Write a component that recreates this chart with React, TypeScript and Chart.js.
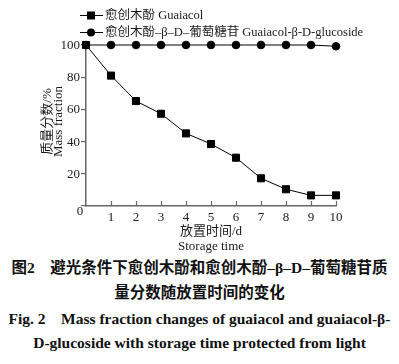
import React, { useEffect, useRef } from "react";
import { Chart, registerables } from "chart.js";

Chart.register(...registerables);

const days = [0, 1, 2, 3, 4, 5, 6, 7, 8, 9, 10];
const guaiacol = [100, 81, 65.2, 57.3, 45.1, 38.5, 30, 17.2, 10.4, 6.6, 6.6];
const glucoside = [100, 100, 100, 100, 100, 100, 100, 100, 100, 100, 99.2];
const yTicks = [0, 20, 40, 60, 80, 100];
const xTicks = [1, 2, 3, 4, 5, 6, 7, 8, 9, 10];
const legendLabels = ["愈创木酚 Guaiacol", "愈创木酚–β–D–葡萄糖苷 Guaiacol-β-D-glucoside"];
const yTitle = ["质量分数/%", "Mass fraction"];
const xTitle = ["放置时间/d", "Storage time"];
const caption = [
  "图2　避光条件下愈创木酚和愈创木酚–β–D–葡萄糖苷质",
  "量分数随放置时间的变化",
  "Fig. 2　Mass fraction changes of guaiacol and guaiacol-β-",
  "D-glucoside with storage time protected from light",
];

const FONT = '"Liberation Serif", "Noto Sans CJK SC", serif';
const TEXT = "#1a1a1a";
const AXIS = "#666";

const decorPlugin = {
  id: "decor",
  afterDraw(chart: any) {
    const ctx = chart.ctx;
    const xs = chart.scales.x;
    const ys = chart.scales.y;
    const bottom = ys.getPixelForValue(0);
    const left = xs.getPixelForValue(0);

    ctx.save();
    ctx.font = `13px ${FONT}`;
    ctx.textBaseline = "middle";
    ctx.fillStyle = TEXT;

    // y title
    ctx.textAlign = "center";
    const cy = (ys.top + ys.bottom) / 2 - 4;
    ctx.save();
    ctx.translate(48, cy);
    ctx.rotate(-Math.PI / 2);
    ctx.fillText(yTitle[0], 0, 0);
    ctx.restore();
    ctx.save();
    ctx.translate(59, cy);
    ctx.rotate(-Math.PI / 2);
    ctx.fillText(yTitle[1], 0, 0);
    ctx.restore();

    // y tick labels
    ctx.fillStyle = TEXT;
    ctx.textAlign = "right";
    for (let i = 0; i < yTicks.length; i++) {
      const v = yTicks[i];
      if (v !== 0) ctx.fillText(String(v), left - 6, ys.getPixelForValue(v) + 0.5);
    }

    // origin label
    ctx.textAlign = "center";
    ctx.fillText("0", left - 6, bottom + 6);

    // x title
    const cx = (xs.left + xs.right) / 2;
    ctx.fillText(xTitle[0], cx, bottom + 26);
    ctx.fillText(xTitle[1], cx, bottom + 41);

    // inward x ticks
    ctx.strokeStyle = AXIS;
    ctx.lineWidth = 1.2;
    xTicks.forEach((v) => {
      const px = Math.round(xs.getPixelForValue(v)) + 0.5;
      ctx.beginPath();
      ctx.moveTo(px, bottom);
      ctx.lineTo(px, bottom - 5);
      ctx.stroke();
    });

    // legend
    ctx.font = `12.5px ${FONT}`;
    const rows = [15, 32];
    rows.forEach((ry, i) => {
      ctx.strokeStyle = "#000";
      ctx.lineWidth = 1;
      ctx.beginPath();
      ctx.moveTo(80, ry + 0.5);
      ctx.lineTo(103, ry + 0.5);
      ctx.stroke();
      ctx.fillStyle = "#000";
      if (i === 0) {
        ctx.fillRect(87, ry - 3.5, 8, 8);
      } else {
        ctx.beginPath();
        ctx.arc(91, ry + 0.5, 4, 0, Math.PI * 2);
        ctx.fill();
      }
      ctx.fillStyle = TEXT;
      ctx.textAlign = "left";
      ctx.fillText(legendLabels[i], 105, ry + 1);
    });
    ctx.restore();
  },
};

export default function App() {
  const ref = useRef<HTMLCanvasElement>(null);
  useEffect(() => {
    document.body.style.margin = "0";
    const chart = new Chart(ref.current as HTMLCanvasElement, {
      type: "line",
      data: {
        datasets: [
          {
            label: legendLabels[0],
            data: days.map((d, i) => ({ x: d, y: guaiacol[i] })),
            borderColor: "#000",
            backgroundColor: "#000",
            borderWidth: 1,
            pointStyle: "rect",
            pointRadius: 5,
            pointHoverRadius: 5,
          },
          {
            label: legendLabels[1],
            data: days.map((d, i) => ({ x: d, y: glucoside[i] })),
            borderColor: "#000",
            backgroundColor: "#000",
            borderWidth: 1,
            pointStyle: "circle",
            pointRadius: 3.8,
            pointHoverRadius: 3.8,
          },
        ],
      },
      options: {
        animation: false,
        responsive: false,
        clip: false as any,
        layout: { padding: { top: 45, right: 63, left: 0, bottom: 0 } },
        plugins: { legend: { display: false }, tooltip: { enabled: false } },
        scales: {
          x: {
            type: "linear",
            min: 0,
            max: 10,
            afterFit: (s: any) => {
              s.height = 52;
            },
            afterBuildTicks: (s: any) => {
              s.ticks = [0, ...xTicks].map((v) => ({ value: v }));
            },
            grid: { display: false, drawTicks: false },
            border: { color: AXIS, width: 1.5 },
            ticks: {
              padding: 4,
              color: TEXT,
              font: { family: FONT, size: 13 },
              maxRotation: 0,
              autoSkip: false,
              callback: (v: any) => (v === 0 ? "" : String(v)),
            },
          },
          y: {
            type: "linear",
            min: 0,
            max: 100,
            afterFit: (s: any) => {
              s.width = 86;
            },
            afterBuildTicks: (s: any) => {
              s.ticks = yTicks.map((v) => ({ value: v }));
            },
            grid: { drawOnChartArea: false, drawTicks: true, tickLength: 5, color: AXIS, lineWidth: 1.2 },
            border: { color: AXIS, width: 1.5 },
            ticks: {
              autoSkip: false,
              callback: () => "",
            },
          },
        },
      },
      plugins: [decorPlugin],
    });
    return () => chart.destroy();
  }, []);

  const capStyle = (top: number): React.CSSProperties => ({
    position: "absolute",
    top,
    left: 0,
    width: 399,
    textAlign: "center",
    fontFamily: FONT,
    fontWeight: 700,
    fontSize: 15.5,
    lineHeight: "20px",
    color: "#111",
    whiteSpace: "nowrap",
  });

  return (
    <div style={{ position: "relative", width: 399, height: 364, background: "#fff" }}>
      <canvas ref={ref} width={399} height={258} style={{ display: "block" }} />
      <div style={capStyle(258)}>{caption[0]}</div>
      <div style={capStyle(283)}>{caption[1]}</div>
      <div style={capStyle(309)}>{caption[2]}</div>
      <div style={capStyle(333)}>{caption[3]}</div>
    </div>
  );
}
